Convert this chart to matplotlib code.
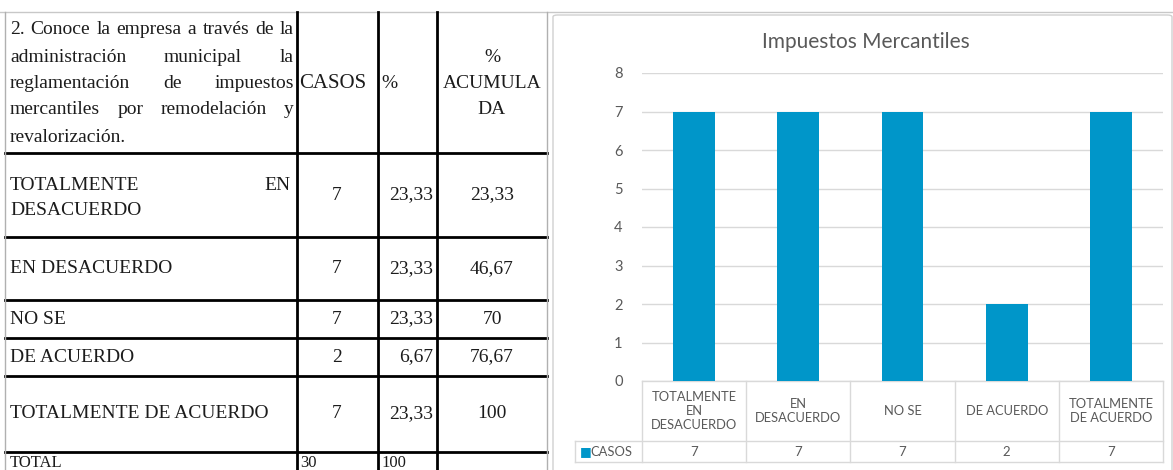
import matplotlib
matplotlib.use("Agg")
import matplotlib.pyplot as plt
from matplotlib.patches import FancyBboxPatch
from matplotlib.lines import Line2D

W, H = 1173, 470

# Data
pregunta = ["2. Conoce la empresa a través de la",
            "administración municipal la",
            "reglamentación de impuestos",
            "mercantiles por remodelación y",
            "revalorización."]
categorias = ["TOTALMENTE EN DESACUERDO", "EN DESACUERDO", "NO SE",
              "DE ACUERDO", "TOTALMENTE DE ACUERDO"]
casos = [7, 7, 7, 2, 7]
porcentaje = ["23,33", "23,33", "23,33", "6,67", "23,33"]
acumulada = ["23,33", "46,67", "70", "76,67", "100"]
total_casos = "30"
total_pct = "100"
etiquetas_eje = ["TOTALMENTE\nEN\nDESACUERDO", "EN\nDESACUERDO", "NO SE",
                 "DE ACUERDO", "TOTALMENTE\nDE ACUERDO"]

SERIF = "Liberation Serif"
SANS = "Lato"
INK = "#1c1c1c"
GRAY = "#595959"
BAR = "#0096C9"

fig = plt.figure(figsize=(W / 100, H / 100), dpi=100)
renderer = fig.canvas.get_renderer()


def fx(x):
    return x / W


def fy(y):
    return 1 - y / H


def hline(x0, x1, y, color="black", lw=2.0):
    fig.add_artist(Line2D([fx(x0), fx(x1)], [fy(y), fy(y)], color=color, lw=lw))


def vline(x, y0, y1, color="black", lw=2.0):
    fig.add_artist(Line2D([fx(x), fx(x)], [fy(y0), fy(y1)], color=color, lw=lw))


def justify(words, x0, x1, y, size):
    arts = [fig.text(0, fy(y), w, fontsize=size, family=SERIF, color=INK, va="center")
            for w in words]
    widths = [a.get_window_extent(renderer).width for a in arts]
    gap = (x1 - x0 - sum(widths)) / max(len(words) - 1, 1)
    x = x0
    for a, w in zip(arts, widths):
        a.set_x(fx(x))
        x += w + gap


# ---------------- table ----------------
top_rows = [12, 153, 237, 300, 338, 376, 452]
c1, c2, c3, right = 297, 378, 437, 547

hline(0, 1173, 12, color="#c8c8c8", lw=1.0)
for y in top_rows[1:]:
    hline(5, right, y)
vline(5, 12, 470, color="#b0b0b0", lw=1.0)
vline(right, 12, 470, color="#b0b0b0", lw=1.0)
for x in (c1, c2, c3):
    vline(x, 12, 470)

hs = 14
line_y = [30, 57, 83, 110, 137]
for i, (txt, y) in enumerate(zip(pregunta, line_y)):
    if i < len(pregunta) - 1:
        justify(txt.split(), 10, 294, y, hs)
    else:
        fig.text(fx(10), fy(y), txt, fontsize=hs, family=SERIF, color=INK, va="center")

fig.text(fx(299), fy(83), "CASOS", fontsize=15, family=SERIF, color=INK, va="center")
fig.text(fx(381), fy(83), "%", fontsize=hs, family=SERIF, color=INK, va="center")
for t, y in zip(["%", "ACUMULA", "DA"], [57, 83, 110]):
    fig.text(fx(492), fy(y), t, fontsize=hs, family=SERIF, color=INK,
             va="center", ha="center")

rs = 14
row_mid = [(a + b) / 2 for a, b in zip(top_rows[1:-1], top_rows[2:])]
for i, cat in enumerate(categorias):
    y = row_mid[i]
    if i == 0:
        justify(["TOTALMENTE", "EN"], 10, 291, 186, rs)
        fig.text(fx(10), fy(211), "DESACUERDO", fontsize=rs, family=SERIF,
                 color=INK, va="center")
    else:
        fig.text(fx(10), fy(y), cat, fontsize=rs, family=SERIF, color=INK, va="center")
    fig.text(fx(337), fy(y), str(casos[i]), fontsize=rs, family=SERIF, color=INK,
             va="center", ha="center")
    fig.text(fx(433), fy(y), porcentaje[i], fontsize=rs, family=SERIF, color=INK,
             va="center", ha="right")
    fig.text(fx(492), fy(y), acumulada[i], fontsize=rs, family=SERIF, color=INK,
             va="center", ha="center")

fig.text(fx(10), fy(463), "TOTAL", fontsize=12, family=SERIF, color=INK, va="center")
fig.text(fx(300), fy(463), total_casos, fontsize=12, family=SERIF, color=INK, va="center")
fig.text(fx(381), fy(463), total_pct, fontsize=12, family=SERIF, color=INK, va="center")

# ---------------- chart ----------------
fig.add_artist(FancyBboxPatch((fx(553), fy(478)), fx(1172) - fx(553), fy(15) - fy(478),
                              boxstyle="round,pad=0,rounding_size=0.004",
                              fc="white", ec="#d0d0d0", lw=1.0, zorder=-10))
fig.text(fx(866), fy(42), "Impuestos Mercantiles", fontsize=15, family=SANS,
         color=GRAY, ha="center", va="center")

px0, px1, py0, py1 = 642, 1163, 73, 381
ax = fig.add_axes([fx(px0), fy(py1), fx(px1) - fx(px0), fy(py0) - fy(py1)])
ax.set_facecolor("none")
n = len(casos)
ax.bar(range(n), casos, width=0.4, color=BAR, zorder=3)
ax.set_xlim(-0.5, n - 0.5)
ax.set_ylim(0, 8)
ax.set_yticks(range(0, 9))
ax.tick_params(axis="y", length=0, pad=14, labelsize=10.5, labelcolor=GRAY)
ax.tick_params(axis="x", length=0, labelbottom=False)
for lab in ax.get_yticklabels():
    lab.set_family(SANS)
ax.grid(axis="y", color="#d9d9d9", lw=1.0, zorder=0)
for s in ax.spines.values():
    s.set_visible(False)

# data table under the chart
cell_h1 = (441 - 381) / (py1 - py0) * 8
cell_h2 = (462 - 381) / (py1 - py0) * 8
legend_x = -0.5 - (642 - 575) / (px1 - px0) * n
tc = "#d9d9d9"
kw = dict(color=tc, lw=1.0, clip_on=False, zorder=1)
ax.plot([-0.5, n - 0.5], [0, 0], **kw)
ax.plot([legend_x, n - 0.5], [-cell_h1, -cell_h1], **kw)
ax.plot([legend_x, n - 0.5], [-cell_h2, -cell_h2], **kw)
ax.plot([legend_x, legend_x], [-cell_h1, -cell_h2], **kw)
for k in range(n + 1):
    ax.plot([k - 0.5, k - 0.5], [0, -cell_h2], **kw)
for k in range(n):
    ax.text(k, -cell_h1 / 2, etiquetas_eje[k], ha="center", va="center",
            fontsize=9.3, family=SANS, color=GRAY, linespacing=1.2, clip_on=False)
    ax.text(k, -(cell_h1 + cell_h2) / 2, str(casos[k]), ha="center", va="center",
            fontsize=9.5, family=SANS, color=GRAY, clip_on=False)
ax.text(legend_x + 0.05, -(cell_h1 + cell_h2) / 2, "\u25A0", ha="left", va="center",
        fontsize=9, color=BAR, family="DejaVu Sans", clip_on=False)
ax.text(legend_x + 0.15, -(cell_h1 + cell_h2) / 2, "CASOS", ha="left", va="center",
        fontsize=9.3, family=SANS, color=GRAY, clip_on=False)

fig.savefig("out.png", dpi=100)
